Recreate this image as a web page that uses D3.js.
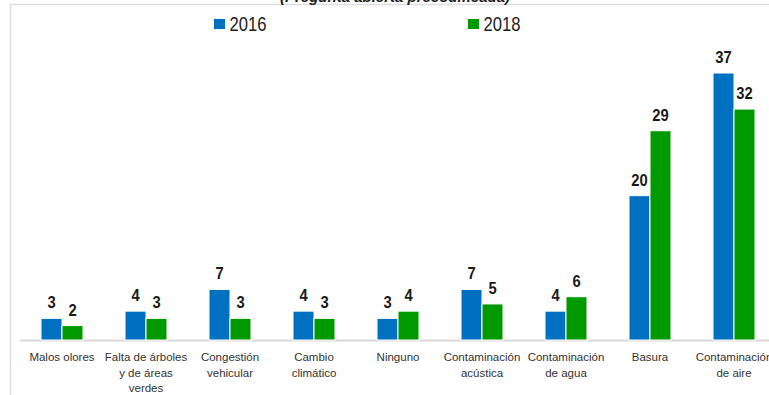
<!DOCTYPE html>
<html>
<head>
<meta charset="utf-8">
<script src="https://cdn.jsdelivr.net/npm/d3@7"></script>
<style>
  body { margin: 0; background: #fff; }
  svg { display: block; font-family: "Liberation Sans", Arial, sans-serif; }
</style>
</head>
<body>
<div id="container"></div>
<script>
const categories = [
  ['Malos olores'],
  ['Falta de árboles', 'y de áreas', 'verdes'],
  ['Congestión', 'vehicular'],
  ['Cambio', 'climático'],
  ['Ninguno'],
  ['Contaminación', 'acústica'],
  ['Contaminación', 'de agua'],
  ['Basura'],
  ['Contaminación', 'de aire']
]
const years = ['2016', '2018']
const values2016 = [3, 4, 7, 4, 3, 7, 4, 20, 37]
const values2018 = [2, 3, 3, 3, 4, 5, 6, 29, 32]
const colors = ['#0070c0', '#009a00']

const width = 769
const height = 395

const svg = d3.select('#container')
  .append('svg')
  .attr('width', width)
  .attr('height', height)

// frame of the original slide
svg.append('path')
  .attr('d', 'M10.5,' + height + 'V4.5H' + width)
  .attr('fill', 'none')
  .attr('stroke', '#dedede')
  .attr('stroke-width', 1.5)

// title, cut off at the top
svg.append('text')
  .attr('x', 395)
  .attr('y', 2)
  .attr('text-anchor', 'middle')
  .attr('font-size', 15)
  .attr('font-weight', 'bold')
  .attr('font-style', 'italic')
  .attr('fill', '#222')
  .text('(Pregunta abierta precodificada)')

const x = d3.scaleBand()
  .domain(d3.range(categories.length))
  .range([20, 776])
  .paddingInner(0.5)
  .paddingOuter(0.25)

const x1 = d3.scaleBand()
  .domain(years)
  .range([0, x.bandwidth()])

const y = d3.scaleLinear()
  .domain([0, 37])
  .range([340, 73])

const series = [values2016, values2018]

// baseline
svg.append('line')
  .attr('x1', 20)
  .attr('x2', width)
  .attr('y1', y(0) + 0.5)
  .attr('y2', y(0) + 0.5)
  .attr('stroke', '#d9d9d9')
  .attr('stroke-width', 2)

series.forEach(function (vals, s) {
  const g = svg.append('g')
  g.selectAll('rect')
    .data(vals)
    .enter()
    .append('rect')
    .attr('x', (d, i) => x(i) + x1(years[s]))
    .attr('y', d => y(d))
    .attr('width', x1.bandwidth())
    .attr('height', d => y(0) - y(d))
    .attr('fill', colors[s])
    .attr('stroke', '#fff')
    .attr('stroke-width', 1)

  g.selectAll('text')
    .data(vals)
    .enter()
    .append('text')
    .attr('x', (d, i) => x(i) + x1(years[s]) + x1.bandwidth() / 2)
    .attr('y', d => y(d) - 10)
    .attr('text-anchor', 'middle')
    .attr('font-size', 16)
    .attr('font-weight', 'bold')
    .attr('fill', '#1a1a1a')
    .attr('textLength', d => String(d).length * 8.2)
    .attr('lengthAdjust', 'spacingAndGlyphs')
    .text(d => d)
})

// category labels
const labels = svg.append('g')
labels.selectAll('text')
  .data(categories)
  .enter()
  .append('text')
  .attr('text-anchor', 'middle')
  .attr('font-size', 11.5)
  .attr('fill', '#333')
  .each(function (lines, i) {
    const t = d3.select(this)
    lines.forEach(function (line, j) {
      t.append('tspan')
        .attr('x', x(i) + x.bandwidth() / 2)
        .attr('y', 361 + j * 15.5)
        .text(line)
    })
  })

// legend
const legend = svg.append('g')
const legendX = [214, 468]
years.forEach(function (yr, s) {
  legend.append('rect')
    .attr('x', legendX[s])
    .attr('y', 19)
    .attr('width', 11)
    .attr('height', 10)
    .attr('fill', colors[s])
  legend.append('text')
    .attr('x', legendX[s] + 15.5)
    .attr('y', 31)
    .attr('font-size', 20)
    .attr('fill', '#222')
    .attr('textLength', 37)
    .attr('lengthAdjust', 'spacingAndGlyphs')
    .text(yr)
})
</script>
</body>
</html>
